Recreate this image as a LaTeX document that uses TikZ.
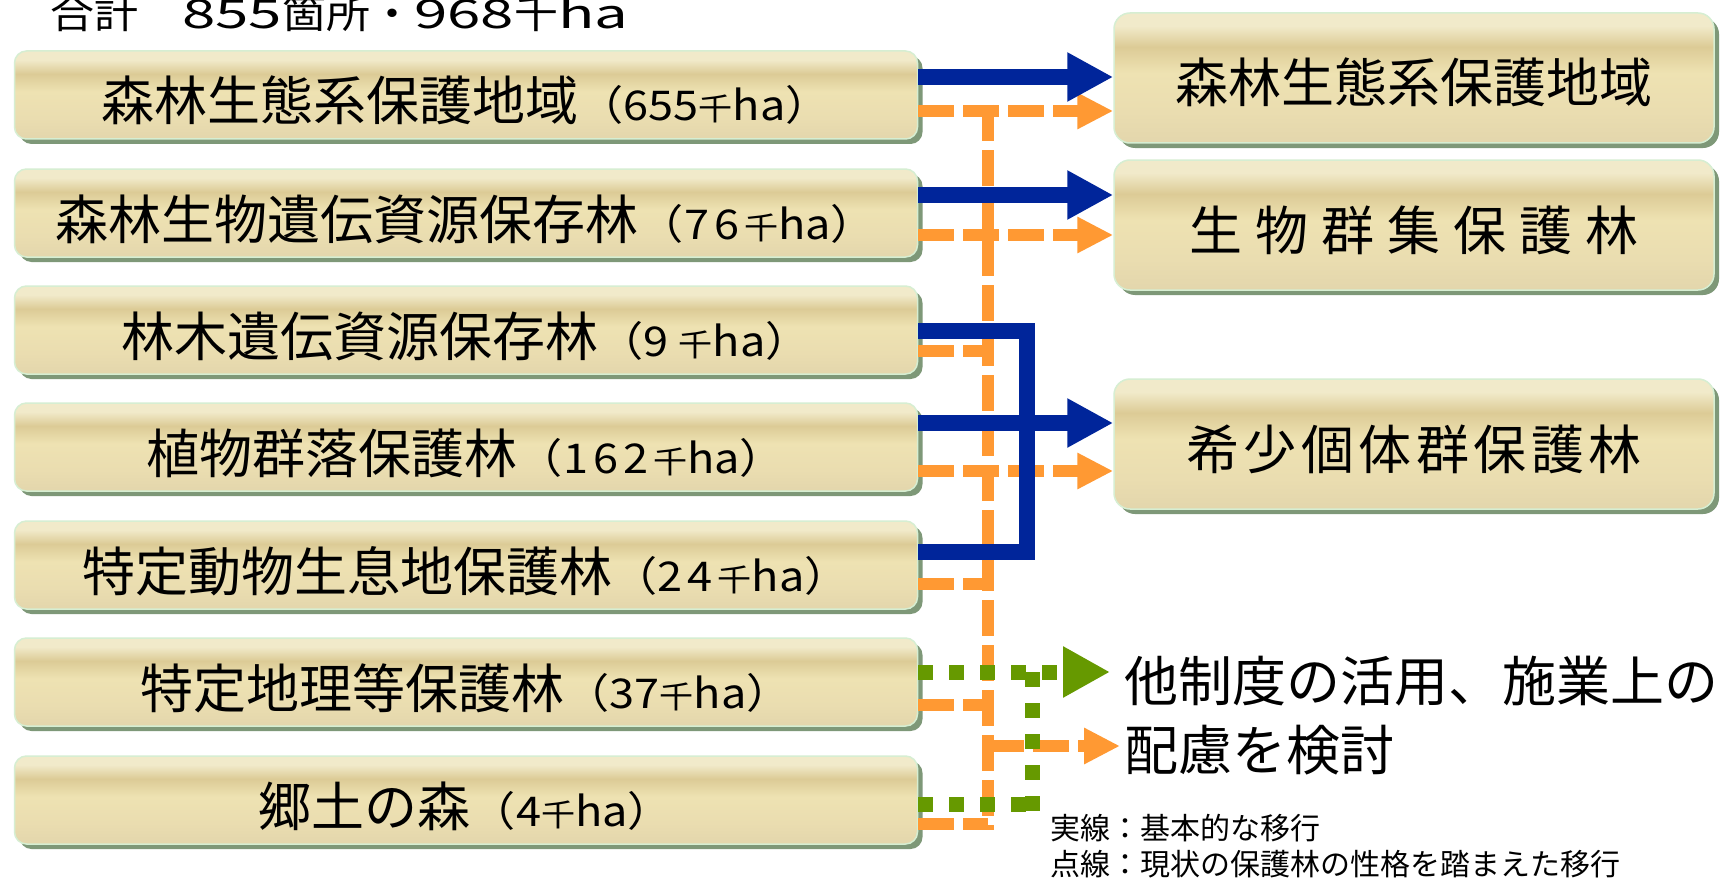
\documentclass[tikz,border=0pt]{standalone}
\usepackage{fontspec}
\newfontfamily\jp{Noto Sans CJK JP}
\newfontfamily\jpn[FakeStretch=1.1]{Noto Sans CJK JP}
\newfontfamily\jpw[FakeStretch=1.5]{Noto Sans CJK JP}
\usetikzlibrary{arrows.meta,shadows}
\definecolor{bz1}{HTML}{E3D6AC}
\definecolor{bz2}{HTML}{EADDB0}
\definecolor{bz3}{HTML}{EEE2B2}
\definecolor{bz4}{HTML}{DCCB96}
\definecolor{bz5}{HTML}{F1EACA}
\definecolor{edgec}{HTML}{D6EED2}
\definecolor{shadowc}{HTML}{7E9878}
\definecolor{bluec}{HTML}{00259A}
\definecolor{orangec}{HTML}{FF9933}
\definecolor{greenc}{HTML}{669900}
\pgfdeclareverticalshading{beige}{100bp}{color(0bp)=(bz1); color(25bp)=(bz1); color(37bp)=(bz2); color(52bp)=(bz3); color(62bp)=(bz4); color(70bp)=(bz5); color(100bp)=(bz5)}
% left-box label: main text + parenthetical
\newcommand\bx[2]{\smash{\raisebox{-26pt}{{\jp\fontsize{53pt}{56pt}\selectfont #1}#2}}}
\newcommand\pnt[1]{{\jpn\fontsize{41pt}{44pt}\selectfont （#1{\fontsize{31pt}{32pt}\selectfont 千}ha）}}
\newcommand\dk{\kern5pt}
\newcommand\rlab[1]{\smash{\raisebox{-25pt}{\jp\fontsize{53pt}{56pt}\selectfont #1}}}
\newcommand\gapr{\hspace{13pt}}
\newcommand\gaps{\kern4.5pt}
\tikzset{
  boxbase/.style={shade, shading=beige, draw=edgec, line width=1.5pt, inner sep=0pt,
    drop shadow={shadow xshift=5pt, shadow yshift=-5pt, fill=shadowc, opacity=1}},
  lbox/.style={boxbase, rounded corners=12pt, minimum width=903pt, minimum height=88pt},
  rbox/.style={boxbase, rounded corners=16pt, minimum width=600pt, minimum height=130pt},
  txt/.style={inner sep=0pt, anchor=west},
  bl/.style={draw=bluec, line width=16pt, line join=miter},
  og/.style={draw=orangec, line width=12pt, dash pattern=on 36pt off 9pt},
  gn/.style={draw=greenc, line width=15pt, dash pattern=on 15pt off 16pt},
  bltip/.style={-{Triangle[length=46pt,width=46pt]}},
  ogtip/.style={-{Triangle[length=36pt,width=34pt]}},
  gntip/.style={-{Triangle[length=47pt,width=48pt]}}
}
\begin{document}
\begin{tikzpicture}[x=1pt,y=-1pt]
\useasboundingbox (0,0) rectangle (1726,880);
\fill[white] (0,0) rectangle (1726,880);

\node[anchor=base west, inner sep=0pt] (title) at (50,29)
  {\jpn\fontsize{40pt}{40pt}\selectfont 合計　{\jpw 855}箇所・{\jpw 968}千{\jpw ha}};

% left boxes
\node[lbox] (L1) at (466,95)  {\bx{森林生態系保護地域}{\pnt{655}}};
\node[lbox] (L2) at (466,213) {\bx{森林生物遺伝資源保存林}{\pnt{7\dk 6\dk}}};
\node[lbox] (L3) at (466,330) {\bx{林木遺伝資源保存林}{\pnt{9 }}};
\node[lbox] (L4) at (466,447) {\bx{植物群落保護林}{\pnt{1\dk 6\dk 2\dk}}};
\node[lbox] (L5) at (466,565) {\bx{特定動物生息地保護林}{\pnt{2\dk 4\dk}}};
\node[lbox] (L6) at (466,682) {\bx{特定地理等保護林}{\pnt{37}}};
\node[lbox] (L7) at (466,800) {\bx{郷土の森}{\pnt{4}}};

% right boxes
\node[rbox] (R1) at (1414,78)  {\rlab{森林生態系保護地域}};
\node[rbox] (R2) at (1414,225) {\rlab{生\gapr 物\gapr 群\gapr 集\gapr 保\gapr 護\gapr 林}};
\node[rbox] (R3) at (1414,444) {\rlab{希\gaps 少\gaps 個\gaps 体\gaps 群\gaps 保\gaps 護\gaps 林}};

% right texts
\node[txt] (O1) at (1124,681) {\jp\fontsize{54pt}{58pt}\selectfont 他制度の活用、施業上の};
\node[txt] (O2) at (1124,750) {\jp\fontsize{54pt}{58pt}\selectfont 配慮を検討};
\node[txt] (G1) at (1050,828) {\jp\fontsize{30pt}{32pt}\selectfont 実線：基本的な移行};
\node[txt] (G2) at (1050,864) {\jp\fontsize{30pt}{32pt}\selectfont 点線：現状の保護林の性格を踏まえた移行};

% junction coordinates
\coordinate (ot) at (988,105);
\coordinate (ob) at (988,830);
\coordinate (gt) at (1032,672);
\coordinate (gb) at (1032,826);
\coordinate (bj) at (1027,440);

% orange dashed
\draw[og] (ot) -- (ob);
\draw[og,ogtip] (L1.east |- 0,111) -- (R1.west |- 0,111);
\draw[og,ogtip] (L2.east |- 0,235) -- (R2.west |- 0,235);
\draw[og] (L3.east |- 0,351) -- (ot |- 0,351);
\draw[og,ogtip] (L4.east |- 0,471) -- (R3.west |- 0,471);
\draw[og] (L5.east |- 0,584) -- (ot |- 0,584);
\draw[og] (L6.east |- 0,705) -- (ot |- 0,705);
\draw[og] (L7.east |- 0,824) -- (ot |- 0,824);
\draw[og,ogtip,shorten >=4pt] (ot |- 0,746) -- (O2.west |- 0,746);

% green dotted
\draw[gn] (gt) -- (gb);
\draw[gn] (L7.east |- 0,804) -- (gb |- 0,804);
\draw[gn,gntip,shorten >=14pt] (L6.east |- 0,672) -- (O1.west |- 0,672);

% blue solid
\draw[bl,bltip] (L1.east |- 0,77) -- (R1.west |- 0,77);
\draw[bl,bltip] (L2.east |- 0,195) -- (R2.west |- 0,195);
\draw[bl] (L3.east |- 0,331) -| (bj) |- (L5.east |- 0,552);
\draw[bl,bltip] (L4.east |- 0,423) -- (R3.west |- 0,423);
\end{tikzpicture}
\end{document}
